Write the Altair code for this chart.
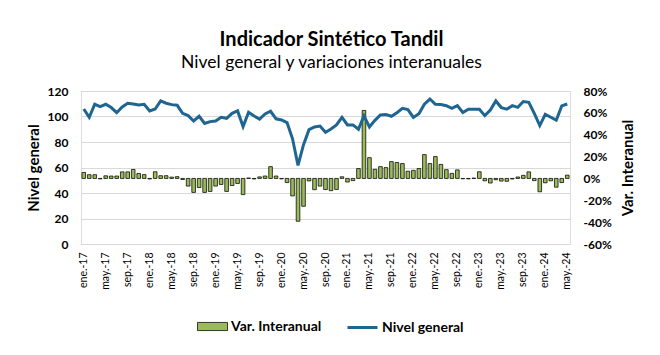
import altair as alt
import pandas as pd

FONT = "Lato"

meses = ["ene.", "feb.", "mar.", "abr.", "may.", "jun.", "jul.", "ago.", "sep.", "oct.", "nov.", "dic."]
anios = ["17", "18", "19", "20", "21", "22", "23", "24"]
periodos = [f"{m}-{a}" for a in anios for m in meses][:89]
etiquetas_x = periodos[::4]

nivel_general = [
    105.9, 99.4, 109.6, 107.8, 109.6, 107.0, 103.0, 107.5, 110.4, 109.8, 109.0, 109.6,
    104.4, 105.9, 112.2, 110.4, 109.3, 108.8, 102.5, 100.7, 96.5, 100.2, 94.5, 96.0,
    96.5, 99.4, 98.6, 102.5, 104.4, 92.1, 103.3, 100.4, 98.0, 102.0, 104.1, 98.2,
    97.3, 95.2, 82.5, 61.6, 77.9, 89.7, 91.8, 92.5, 87.6, 90.2, 93.4, 99.4,
    93.4, 93.4, 90.0, 100.5, 91.8, 97.0, 101.2, 101.6, 100.2, 103.0, 106.4, 105.4,
    99.3, 102.2, 109.7, 113.7, 109.6, 109.4, 108.5, 106.4, 108.5, 103.1, 105.7, 105.7,
    105.7, 100.7, 105.1, 112.2, 107.0, 105.7, 108.5, 107.2, 111.7, 111.1, 102.5, 92.9,
    101.7, 99.4, 97.1, 108.3, 109.8,
]

var_interanual_pct = [
    5.5, 3.4, 3.4, -0.4, 2.4, 2.2, 2.2, 6.0, 6.0, 8.2, 4.5, 3.5,
    -0.5, 6.1, 2.5, 2.5, 1.2, 1.6, -1.0, -7.0, -12.8, -8.3, -12.8, -11.9,
    -7.0, -5.5, -11.9, -6.5, -4.6, -14.8, 0.4, -0.5, 1.4, 2.2, 10.8, 2.2,
    -0.4, -3.8, -16.0, -39.2, -25.5, -2.3, -10.3, -7.0, -10.2, -11.2, -10.1, 1.5,
    -3.3, -2.0, 9.0, 62.2, 19.0, 8.3, 10.8, 9.9, 15.4, 14.6, 13.6, 6.6,
    7.4, 9.1, 21.8, 13.6, 20.0, 12.8, 8.0, 4.6, 7.8, -0.3, -0.4, 0.3,
    6.1, -2.2, -4.2, -1.2, -2.4, -2.6, -0.5, 1.3, 2.8, 6.0, -2.0, -12.2,
    -4.0, -2.2, -8.0, -3.8, 3.0,
]

ticks_nivel = [0, 20, 40, 60, 80, 100, 120]
ticks_var = [-0.6, -0.4, -0.2, 0.0, 0.2, 0.4, 0.6, 0.8]

df = pd.DataFrame({
    "periodo": periodos,
    "nivel": nivel_general,
    "var": [v / 100 for v in var_interanual_pct],
    "s_bar": "Var. Interanual",
    "s_line": "Nivel general",
})

x_axis = alt.Axis(
    values=etiquetas_x, labelAngle=-90, title=None, domain=False, ticks=False,
    labelPadding=8, labelFontSize=10.5, labelFont=FONT, labelColor="#000000", grid=False,
)
x_scale = alt.Scale(paddingInner=0.34, paddingOuter=0.17)

bars = alt.Chart(df).mark_bar(stroke="black", strokeWidth=0.75).encode(
    x=alt.X("periodo:N", sort=periodos, scale=x_scale, axis=x_axis),
    y=alt.Y(
        "var:Q",
        scale=alt.Scale(domain=[-0.6, 0.8], nice=False, zero=True),
        axis=alt.Axis(
            orient="right", values=ticks_var, grid=False, domain=False, ticks=False,
            labelExpr="(datum.value < -0.001 ? '-' : '') + format(abs(datum.value) * 100, '.0f') + '%'",
            labelFont=FONT, labelFontSize=12, labelFontWeight="bold", labelColor="#000000",
            labelPadding=13, title="Var. Interanual", titleFont=FONT, titleFontSize=15,
            titleFontWeight="bold", titleColor="#000000", titlePadding=24, titleAngle=270,
        ),
    ),
    fill=alt.Fill(
        "s_bar:N",
        scale=alt.Scale(domain=["Var. Interanual"], range=["#9bbb59"]),
        legend=alt.Legend(
            orient="none", legendX=116, legendY=220, title=None, direction="horizontal",
            symbolType="M-1,-0.27H1V0.27H-1Z", symbolSize=900, symbolStrokeColor="black",
            symbolStrokeWidth=0.75, symbolOpacity=1, labelFont=FONT, labelFontSize=14,
            labelFontWeight="bold", labelColor="#000000", labelOffset=3, padding=0,
        ),
    ),
)

line = alt.Chart(df).mark_line(strokeWidth=3).encode(
    x=alt.X("periodo:N", sort=periodos, bandPosition=0.5),
    y=alt.Y(
        "nivel:Q",
        scale=alt.Scale(domain=[0, 120], nice=False),
        axis=alt.Axis(
            orient="left", values=ticks_nivel, grid=True, gridColor="#d9d9d9", gridWidth=1,
            domain=False, ticks=False, labelFont=FONT, labelFontSize=12, labelFontWeight="bold",
            labelColor="#000000", labelPadding=13, title="Nivel general", titleFont=FONT,
            titleFontSize=15, titleFontWeight="bold", titleColor="#000000", titlePadding=6,
        ),
    ),
    stroke=alt.Stroke(
        "s_line:N",
        scale=alt.Scale(domain=["Nivel general"], range=["#1f6592"]),
        legend=alt.Legend(
            orient="none", legendX=265, legendY=220, title=None, direction="horizontal",
            symbolType="stroke", symbolSize=900, symbolStrokeWidth=3, labelFont=FONT,
            labelFontSize=14, labelFontWeight="bold", labelColor="#000000", labelOffset=3,
            padding=0,
        ),
    ),
)

chart = alt.layer(bars, line).resolve_scale(y="independent").properties(
    width=489,
    height=153,
    autosize=alt.AutoSizeParams(type="none"),
    padding={"left": 81, "top": 91, "right": 90, "bottom": 111},
    title=alt.TitleParams(
        text="Indicador Sintético Tandil",
        subtitle="Nivel general y variaciones interanuales",
        anchor="middle", frame="group", dx=6, offset=14,
        font=FONT, fontSize=20, fontWeight="bold", color="#000000",
        subtitleFont=FONT, subtitleFontSize=17.5, subtitleColor="#000000", subtitlePadding=4,
    ),
).configure_view(stroke=None).configure(background="white")

chart.save("out.html", embed_options={"renderer": "svg", "actions": False})
